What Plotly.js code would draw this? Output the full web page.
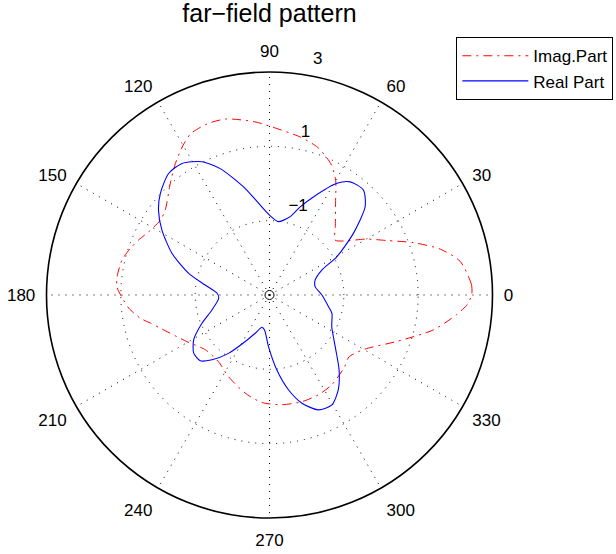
<!DOCTYPE html>
<html>
<head>
<meta charset="utf-8">
<script src="https://cdn.plot.ly/plotly-3.0.1.min.js"></script>
<style>html,body{margin:0;padding:0;background:#fff;}#chart{width:616px;height:554px;}</style>
</head>
<body>
<div id="chart"></div>
<script>
// Imag.Part (red, dash-dot)
const imagTheta = [0, 3, 10, 15, 20, 25, 30, 36, 40, 46, 55, 60, 65, 72, 79, 89, 95, 104, 110, 116, 120, 125.6, 131.6, 140.8, 145.5, 152.4, 157.2, 161.5, 166.7, 173.2, 177, 182, 185.4, 190.2, 193.3, 196.9, 209.5, 220.5, 232.6, 243.4, 256.1, 266, 276.4, 286.9, 296.1, 304.7, 316, 322, 330, 340, 348, 354, 357, 360];
const imagR = [2.44, 2.44, 2.21, 1.76, 1.12, 0.47, 0.01, -0.53, -0.70, -0.45, 0.10, 0.56, 0.90, 1.18, 1.33, 1.52, 1.68, 1.88, 1.90, 1.83, 1.65, 1.35, 1.02, 0.62, 0.56, 0.67, 0.82, 0.95, 1.08, 1.13, 1.11, 0.93, 0.80, 0.53, 0.29, 0.07, -0.45, -0.73, -0.74, -0.54, -0.28, -0.10, -0.03, 0.0, -0.01, -0.06, -0.20, -0.29, -0.07, 0.65, 1.51, 2.06, 2.31, 2.44];

// Real Part (blue, solid)
const realTheta = [0, 10, 18, 25.5, 29.6, 36.3, 42.7, 48.2, 54.5, 58.9, 65.9, 70.8, 75.2, 83, 90, 98.5, 103.5, 111.3, 116.9, 123.6, 129.7, 137.1, 142.6, 148.9, 156.9, 165, 171.2, 178.1, 183.7, 194.6, 202.7, 210.6, 217.5, 223.5, 228.4, 234.9, 242.5, 249.5, 256.8, 261.9, 268.9, 275.6, 281.3, 286.7, 293.1, 299.6, 306, 312.9, 321.8, 333, 343.7, 348.8, 360];
const realR = [-1.59, -1.75, -1.71, -1.44, -0.92, -0.20, 0.50, 0.79, 0.74, 0.51, -0.11, -0.49, -0.82, -1.01, -0.85, -0.40, -0.01, 0.65, 1.02, 1.25, 1.25, 1.01, 0.76, 0.38, -0.15, -0.75, -1.25, -1.59, -1.63, -1.40, -1.03, -0.63, -0.43, -0.43, -0.67, -1.08, -1.59, -1.90, -2.11, -2.05, -1.61, -0.97, -0.40, 0.04, 0.36, 0.40, 0.15, -0.25, -0.75, -1.12, -1.25, -1.38, -1.59];

// origin marker
const originTheta = [0];
const originR = [-3];

// axis ticks
const radialTicks = [-1, 1, 3];
const radialLabels = ['\u22121', '1', '3'];
const angleTicks = [0, 30, 60, 90, 120, 150, 180, 210, 240, 270, 300, 330];
const angleLabels = ['0', '30', '60', '90', '120', '150', '180', '210', '240', '270', '300', '330'];

const FONT = 'Liberation Sans, Arial, Helvetica, sans-serif';
const RADIAL_LABEL_ANGLE = 80.5;

const traces = [
  {
    type: 'scatterpolar', mode: 'lines', name: 'Imag.Part',
    theta: imagTheta, r: imagR,
    line: {color: 'rgb(255,0,0)', width: 1, dash: '9px,5px,2px,5px', shape: 'spline', smoothing: 0.7}
  },
  {
    type: 'scatterpolar', mode: 'lines', name: 'Real Part',
    theta: realTheta, r: realR,
    line: {color: 'rgb(0,0,255)', width: 1.1, shape: 'spline', smoothing: 0.7}
  },
  {
    type: 'scatterpolar', mode: 'markers', showlegend: false, hoverinfo: 'skip',
    theta: originTheta, r: originR,
    marker: {symbol: 'circle-open', size: 9, color: 'black', line: {width: 1}}
  },
  {
    type: 'scatterpolar', mode: 'markers+text', showlegend: false, hoverinfo: 'skip',
    theta: radialTicks.map(() => RADIAL_LABEL_ANGLE), r: radialTicks,
    text: radialLabels, textposition: 'top right',
    marker: {size: 9, color: 'rgba(0,0,0,0)'},
    textfont: {family: FONT, size: 17, color: 'black'},
    cliponaxis: false
  }
];

const layout = {
  width: 616, height: 554,
  paper_bgcolor: 'white',
  margin: {l: 46, r: 123.4, t: 71.7, b: 35.7, autoexpand: false},
  font: {family: FONT, color: 'black', size: 17},
  title: {text: 'far\u2212field pattern', font: {family: FONT, size: 25, color: 'black'},
          xref: 'paper', x: 0.5, xanchor: 'center', yref: 'container', y: 0.976, yanchor: 'middle'},
  showlegend: true,
  legend: {
    x: 0.918, y: 1.078, xanchor: 'left', yanchor: 'top',
    bgcolor: 'white', bordercolor: 'black', borderwidth: 1,
    font: {family: FONT, size: 17, color: 'black'},
    itemwidth: 66
  },
  polar: {
    domain: {x: [0, 1], y: [0, 1]},
    bgcolor: 'white',
    radialaxis: {
      range: [-3, 3], tickvals: radialTicks, angle: 80,
      showline: false, ticks: '', showticklabels: false,
      gridcolor: 'black', gridwidth: 1, griddash: '1px,6px'
    },
    angularaxis: {
      rotation: 0, direction: 'counterclockwise',
      tickvals: angleTicks, ticktext: angleLabels,
      showline: true, linecolor: 'black', linewidth: 1.6,
      gridcolor: 'black', gridwidth: 1, griddash: '1px,6px',
      ticks: 'outside', ticklen: 7, tickcolor: 'rgba(0,0,0,0)',
      tickfont: {family: FONT, size: 17, color: 'black'}
    }
  }
};

Plotly.newPlot('chart', traces, layout, {staticPlot: true, displayModeBar: false});
</script>
</body>
</html>
